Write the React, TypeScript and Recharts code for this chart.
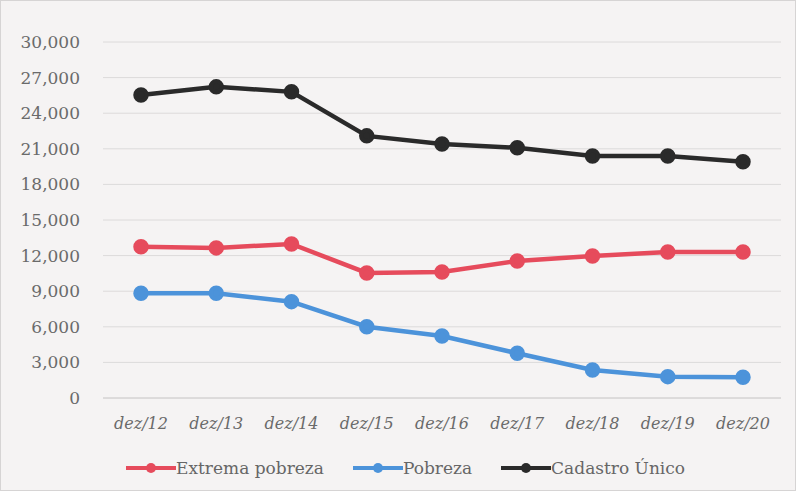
import React from 'react';
import { LineChart, Line, XAxis, YAxis, CartesianGrid } from 'recharts';

const periods = ['dez/12', 'dez/13', 'dez/14', 'dez/15', 'dez/16', 'dez/17', 'dez/18', 'dez/19', 'dez/20'];
const extremaPobreza = [12750, 12650, 12980, 10540, 10620, 11550, 11970, 12300, 12300];
const pobreza = [8830, 8830, 8120, 6010, 5230, 3770, 2360, 1800, 1750];
const cadastroUnico = [25540, 26220, 25800, 22090, 21410, 21080, 20400, 20400, 19900];
const yTicks = [0, 3000, 6000, 9000, 12000, 15000, 18000, 21000, 24000, 27000, 30000];

const series = [
  { key: 'extrema', name: 'Extrema pobreza', color: '#E64B5C' },
  { key: 'pobreza', name: 'Pobreza', color: '#4C93DA' },
  { key: 'cadastro', name: 'Cadastro Único', color: '#2A2A2A' },
];
const FONT = 'DejaVu Serif, serif';

const data = periods.map((p, i) => ({
  period: p,
  extrema: extremaPobreza[i],
  pobreza: pobreza[i],
  cadastro: cadastroUnico[i],
}));

const fmt = (v: number) => v.toLocaleString('en-US');

const App: React.FC = () => (
  <div style={{ position: 'absolute', left: 0, top: 0, width: 796, height: 491, background: '#F5F3F3', boxSizing: 'border-box', border: '1px solid #D6D4D4' }}>
    <LineChart width={794} height={489} data={data} margin={{ top: 41, right: 14, bottom: 62, left: 30 }}>
      <CartesianGrid vertical={false} stroke="#DCDADA" strokeWidth={1} />
      <XAxis
        dataKey="period"
        padding={{ left: 38, right: 38 }}
        axisLine={{ stroke: '#D0CECE' }}
        tickLine={false}
        tick={{ fill: '#6A6A6A', fontSize: 16, fontFamily: FONT, fontStyle: 'italic' }}
        tickMargin={14}
      />
      <YAxis
        domain={[0, 30000]}
        ticks={yTicks}
        width={72}
        axisLine={false}
        tickLine={false}
        tickFormatter={fmt}
        tick={{ fill: '#6A6A6A', fontSize: 17, fontFamily: FONT }}
        tickMargin={17}
      />
      {series.map((s) => (
        <Line key={s.key} type="linear" dataKey={s.key} name={s.name} stroke={s.color} strokeWidth={4.5}
          dot={{ r: 5.5, fill: s.color, stroke: s.color }} isAnimationActive={false} />
      ))}
    </LineChart>
    <div style={{ position: 'absolute', left: 125, top: 457, display: 'flex', fontFamily: FONT, fontSize: 17, color: '#666' }}>
      {series.map((s) => (
        <div key={s.key} style={{ display: 'flex', alignItems: 'center', marginRight: 29 }}>
          <svg width={50} height={14}>
            <line x1={0} y1={7} x2={50} y2={7} stroke={s.color} strokeWidth={4} />
            <circle cx={25} cy={7} r={5} fill={s.color} />
          </svg>
          <span>{s.name}</span>
        </div>
      ))}
    </div>
  </div>
);

export default App;
